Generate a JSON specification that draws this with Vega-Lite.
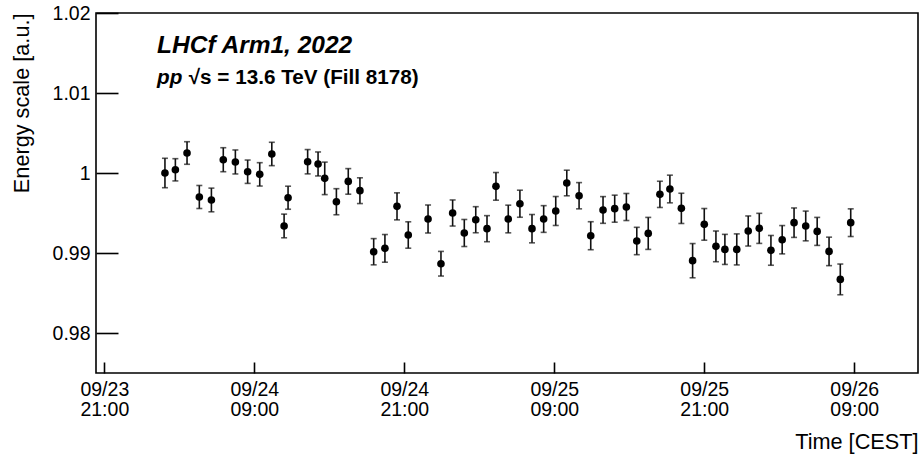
{
  "$schema": "https://vega.github.io/schema/vega-lite/v6.json",
  "width": 822,
  "height": 360,
  "autosize": {"type": "none"},
  "padding": {"left": 96, "top": 13, "right": 2, "bottom": 86},
  "background": "white",
  "datasets": {
    "energy": [
      {"time": "2022-09-24T01:51:00Z", "scale": 1.0000, "err": 0.00184},
      {"time": "2022-09-24T02:41:00Z", "scale": 1.0004, "err": 0.00139},
      {"time": "2022-09-24T03:37:00Z", "scale": 1.0025, "err": 0.00141},
      {"time": "2022-09-24T04:36:00Z", "scale": 0.9970, "err": 0.00144},
      {"time": "2022-09-24T05:34:00Z", "scale": 0.99663, "err": 0.00148},
      {"time": "2022-09-24T06:31:00Z", "scale": 1.00166, "err": 0.0015},
      {"time": "2022-09-24T07:29:00Z", "scale": 1.00138, "err": 0.0015},
      {"time": "2022-09-24T08:28:00Z", "scale": 1.00016, "err": 0.00146},
      {"time": "2022-09-24T09:26:00Z", "scale": 0.99983, "err": 0.00146},
      {"time": "2022-09-24T10:24:00Z", "scale": 1.00238, "err": 0.00146},
      {"time": "2022-09-24T11:23:00Z", "scale": 0.99338, "err": 0.00148},
      {"time": "2022-09-24T11:42:00Z", "scale": 0.99691, "err": 0.00144},
      {"time": "2022-09-24T13:16:00Z", "scale": 1.00141, "err": 0.00152},
      {"time": "2022-09-24T14:06:00Z", "scale": 1.00113, "err": 0.0015},
      {"time": "2022-09-24T14:38:00Z", "scale": 0.99933, "err": 0.00203},
      {"time": "2022-09-24T15:34:00Z", "scale": 0.99641, "err": 0.00163},
      {"time": "2022-09-24T16:31:00Z", "scale": 0.99895, "err": 0.0016},
      {"time": "2022-09-24T17:27:00Z", "scale": 0.99779, "err": 0.00161},
      {"time": "2022-09-24T18:33:00Z", "scale": 0.99016, "err": 0.00164},
      {"time": "2022-09-24T19:27:00Z", "scale": 0.99058, "err": 0.00173},
      {"time": "2022-09-24T20:25:00Z", "scale": 0.99583, "err": 0.00169},
      {"time": "2022-09-24T21:19:00Z", "scale": 0.99225, "err": 0.00165},
      {"time": "2022-09-24T22:54:00Z", "scale": 0.99425, "err": 0.00175},
      {"time": "2022-09-24T23:56:00Z", "scale": 0.98866, "err": 0.00154},
      {"time": "2022-09-25T00:52:00Z", "scale": 0.9950, "err": 0.00163},
      {"time": "2022-09-25T01:48:00Z", "scale": 0.9925, "err": 0.00169},
      {"time": "2022-09-25T02:43:00Z", "scale": 0.99416, "err": 0.00163},
      {"time": "2022-09-25T03:37:00Z", "scale": 0.99304, "err": 0.00163},
      {"time": "2022-09-25T04:20:00Z", "scale": 0.99833, "err": 0.00173},
      {"time": "2022-09-25T05:19:00Z", "scale": 0.99425, "err": 0.00173},
      {"time": "2022-09-25T06:15:00Z", "scale": 0.99616, "err": 0.00169},
      {"time": "2022-09-25T07:13:00Z", "scale": 0.99304, "err": 0.00177},
      {"time": "2022-09-25T08:09:00Z", "scale": 0.99425, "err": 0.00167},
      {"time": "2022-09-25T09:07:00Z", "scale": 0.99525, "err": 0.00181},
      {"time": "2022-09-25T10:00:00Z", "scale": 0.99875, "err": 0.0016},
      {"time": "2022-09-25T10:59:00Z", "scale": 0.99716, "err": 0.00164},
      {"time": "2022-09-25T11:55:00Z", "scale": 0.99216, "err": 0.00175},
      {"time": "2022-09-25T12:54:00Z", "scale": 0.99538, "err": 0.00167},
      {"time": "2022-09-25T13:50:00Z", "scale": 0.99554, "err": 0.00169},
      {"time": "2022-09-25T14:46:00Z", "scale": 0.99575, "err": 0.00169},
      {"time": "2022-09-25T15:36:00Z", "scale": 0.9915, "err": 0.00171},
      {"time": "2022-09-25T16:31:00Z", "scale": 0.99245, "err": 0.002},
      {"time": "2022-09-25T17:27:00Z", "scale": 0.99733, "err": 0.00164},
      {"time": "2022-09-25T18:15:00Z", "scale": 0.998, "err": 0.00173},
      {"time": "2022-09-25T19:10:00Z", "scale": 0.99558, "err": 0.00189},
      {"time": "2022-09-25T20:04:00Z", "scale": 0.98904, "err": 0.00214},
      {"time": "2022-09-25T21:00:00Z", "scale": 0.99358, "err": 0.00198},
      {"time": "2022-09-25T21:56:00Z", "scale": 0.99083, "err": 0.00192},
      {"time": "2022-09-25T22:39:00Z", "scale": 0.99045, "err": 0.00188},
      {"time": "2022-09-25T23:36:00Z", "scale": 0.99045, "err": 0.00194},
      {"time": "2022-09-26T00:31:00Z", "scale": 0.99275, "err": 0.00188},
      {"time": "2022-09-26T01:24:00Z", "scale": 0.99308, "err": 0.00188},
      {"time": "2022-09-26T02:20:00Z", "scale": 0.99033, "err": 0.00186},
      {"time": "2022-09-26T03:14:00Z", "scale": 0.99166, "err": 0.00177},
      {"time": "2022-09-26T04:11:00Z", "scale": 0.99379, "err": 0.00184},
      {"time": "2022-09-26T05:07:00Z", "scale": 0.99338, "err": 0.00186},
      {"time": "2022-09-26T06:02:00Z", "scale": 0.9927, "err": 0.00175},
      {"time": "2022-09-26T06:59:00Z", "scale": 0.9902, "err": 0.00178},
      {"time": "2022-09-26T07:53:00Z", "scale": 0.9867, "err": 0.00192},
      {"time": "2022-09-26T08:43:00Z", "scale": 0.99379, "err": 0.00173}
    ]
  },
  "layer": [
    {
      "data": {"name": "energy"},
      "mark": {"type": "errorbar", "ticks": {"size": 6, "color": "#111"}, "color": "#111", "thickness": 1.6},
      "encoding": {
        "x": {
          "field": "time",
          "type": "temporal",
          "scale": {"type": "utc", "domain": [1663964400000, 1664201160000], "nice": false},
          "axis": {
            "title": "Time [CEST]",
            "values": [1663966800000, 1664010000000, 1664053200000, 1664096400000, 1664139600000, 1664182800000],
            "labelExpr": "[utcFormat(datum.value, '%m/%d'), utcFormat(datum.value, '%H:%M')]",
            "labelLineHeight": 20.5,
            "labelBaseline": "top",
            "labelPadding": 18,
            "labelFlush": false,
            "labelOverlap": false,
            "tickSize": -11,
            "titleAnchor": "end",
            "titleAlign": "right",
            "titleBaseline": "alphabetic",
            "titleX": 822,
            "titleY": 75
          }
        },
        "y": {
          "field": "scale",
          "type": "quantitative",
          "scale": {"domain": [0.975, 1.02], "nice": false, "zero": false},
          "axis": {
            "title": "Energy scale [a.u.]",
            "values": [0.98, 0.99, 1, 1.01, 1.02],
            "format": "~g",
            "tickSize": -22,
            "labelPadding": 28,
            "labelFlush": false,
            "labelOverlap": false,
            "titleAnchor": "end",
            "titleAlign": "right",
            "titleBaseline": "middle",
            "titleAngle": -90,
            "titleX": -75,
            "titleY": 0
          }
        },
        "yError": {"field": "err"}
      }
    },
    {
      "data": {"name": "energy"},
      "mark": {"type": "point", "shape": "circle", "filled": true, "size": 58, "color": "black", "opacity": 1},
      "encoding": {
        "x": {"field": "time", "type": "temporal"},
        "y": {"field": "scale", "type": "quantitative"}
      }
    },
    {
      "data": {"values": [{}]},
      "mark": {"type": "text", "text": "LHCf Arm1, 2022", "font": "Liberation Sans", "fontSize": 24.5, "fontWeight": "bold", "fontStyle": "italic", "align": "left", "baseline": "alphabetic", "color": "black"},
      "encoding": {
        "x": {"datum": {"year": 2022, "month": 9, "date": 24, "hours": 1, "minutes": 13, "utc": true}, "type": "temporal"},
        "y": {"datum": 1.01504, "type": "quantitative"}
      }
    },
    {
      "data": {"values": [{}]},
      "mark": {"type": "text", "text": "pp", "font": "Liberation Sans", "fontSize": 20.7, "fontWeight": "bold", "fontStyle": "italic", "align": "left", "baseline": "alphabetic", "color": "black"},
      "encoding": {
        "x": {"datum": {"year": 2022, "month": 9, "date": 24, "hours": 1, "minutes": 13, "utc": true}, "type": "temporal"},
        "y": {"datum": 1.01116, "type": "quantitative"}
      }
    },
    {
      "data": {"values": [{}]},
      "mark": {"type": "text", "text": "√s = 13.6 TeV (Fill 8178)", "font": "Liberation Sans", "fontSize": 20.7, "fontWeight": "bold", "align": "left", "baseline": "alphabetic", "color": "black"},
      "encoding": {
        "x": {"datum": {"year": 2022, "month": 9, "date": 24, "hours": 3, "minutes": 45, "utc": true}, "type": "temporal"},
        "y": {"datum": 1.01116, "type": "quantitative"}
      }
    }
  ],
  "config": {
    "view": {"stroke": "black", "strokeWidth": 1.6},
    "axis": {
      "grid": false,
      "domain": false,
      "labelFont": "Liberation Sans",
      "titleFont": "Liberation Sans",
      "labelFontSize": 19.5,
      "titleFontSize": 21.7,
      "titleFontWeight": "normal",
      "labelColor": "black",
      "titleColor": "black",
      "tickColor": "black",
      "tickWidth": 1.6
    }
  }
}
